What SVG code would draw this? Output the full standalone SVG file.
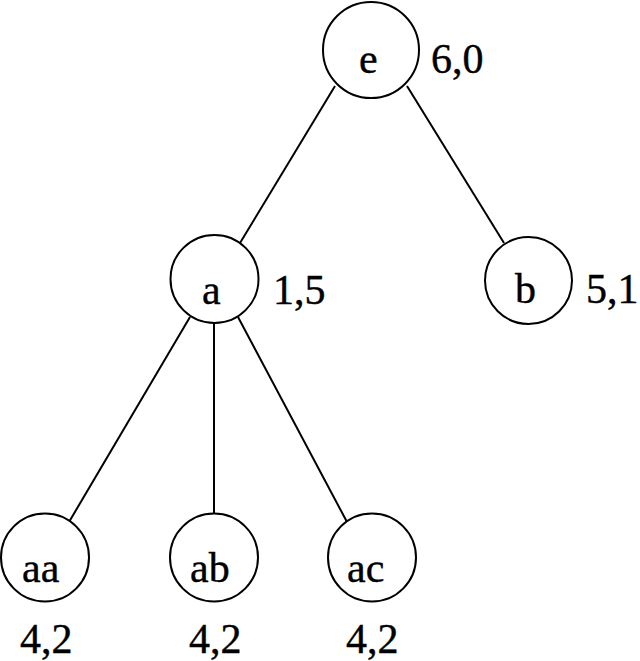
<svg xmlns="http://www.w3.org/2000/svg" width="640" height="661" viewBox="0 0 640 661">
<style>
circle{fill:#fff;stroke:#000;stroke-width:2}
line{stroke:#000;stroke-width:2}
.t{font-family:'Liberation Serif',serif;font-size:42px;fill:#000;stroke:#000;stroke-width:0.4}
</style>
<rect width="640" height="661" fill="#fff"/>
<g id="connectors">
<line x1="335" y1="86" x2="240" y2="243"/>
<line x1="407" y1="86" x2="504" y2="243"/>
<line x1="190" y1="317" x2="69" y2="522"/>
<line x1="214" y1="323" x2="214" y2="522"/>
<line x1="238" y1="317" x2="347" y2="522"/>
</g>
<g id="node-e"><circle cx="371" cy="50" r="48"/><text class="t" font-family="Liberation Serif" x="359" y="73">e</text><text class="t" font-family="Liberation Serif" x="431" y="73">6,0</text></g>
<g id="node-a"><circle cx="214.5" cy="279" r="44"/><text class="t" font-family="Liberation Serif" x="202" y="304">a</text><text class="t" font-family="Liberation Serif" x="273" y="304">1,5</text></g>
<g id="node-b"><circle cx="528.5" cy="280.5" r="43.5"/><text class="t" font-family="Liberation Serif" x="515" y="303">b</text><text class="t" font-family="Liberation Serif" x="586" y="303">5,1</text></g>
<g id="node-aa"><circle cx="45" cy="557.5" r="44"/><text class="t" font-family="Liberation Serif" x="22" y="582">aa</text><text class="t" font-family="Liberation Serif" x="20" y="653">4,2</text></g>
<g id="node-ab"><circle cx="214" cy="557.5" r="44"/><text class="t" font-family="Liberation Serif" x="190" y="582">ab</text><text class="t" font-family="Liberation Serif" x="189" y="653">4,2</text></g>
<g id="node-ac"><circle cx="372" cy="557.5" r="44"/><text class="t" font-family="Liberation Serif" x="347" y="582">ac</text><text class="t" font-family="Liberation Serif" x="346" y="653">4,2</text></g>
</svg>
